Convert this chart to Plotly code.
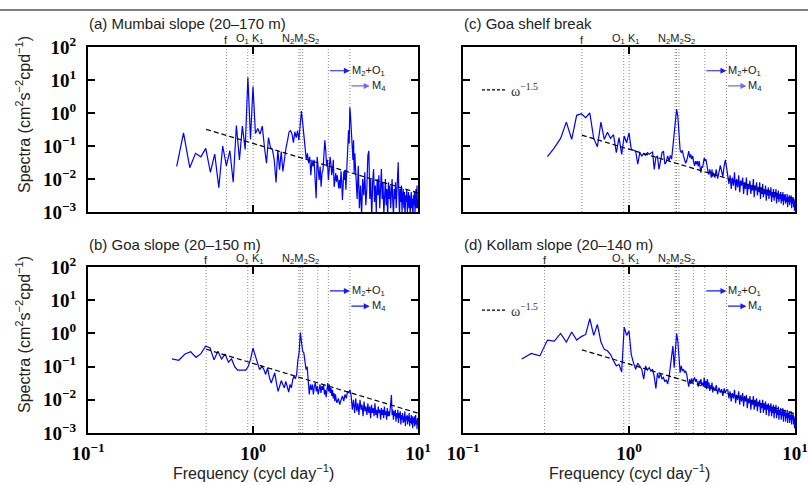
import math
import plotly.graph_objects as go

# ---------------- data ----------------
# spectral estimates on the discrete frequency grid k / record_length (cpd)
REC_A = 29.0
REC_BCD = 31.0
k_a = list(range(10, 121)) + list(range(122, 291, 2))
k_b = list(range(10, 101)) + list(range(102, 311, 2))
k_c = list(range(10, 101)) + list(range(102, 311, 2))
k_d = list(range(7, 101)) + list(range(102, 311, 2))

spec_a_low = [
    0.024, 0.25, 0.022, 0.06, 0.047, 0.085, 0.016, 0.057, 0.0055, 0.1,
    0.025, 0.072, 0.008, 0.42, 0.038, 0.40, 0.079, 12, 0.16, 6.3,
    0.24, 0.34, 0.23, 0.4, 0.095, 0.03, 0.18, 0.09, 0.08, 0.038,
    0.0078, 0.076, 0.019, 0.068, 0.017, 0.047, 0.09, 0.15, 0.27, 0.29,
    0.23, 0.126, 0.27, 0.18, 0.29, 0.15, 0.4, 1.15, 0.5, 0.19,
    0.085, 0.038, 0.06, 0.03, 0.047, 0.013, 0.038, 0.024, 0.038, 0.0105,
    0.0026, 0.047, 0.019, 0.0093, 0.024, 0.0058, 0.015, 0.019, 0.053, 0.15,
    0.076, 0.024, 0.038, 0.0093, 0.019, 0.047, 0.03, 0.013, 0.019, 0.038,
    0.0058, 0.0117, 0.015, 0.0083, 0.013, 0.0083, 0.0052, 0.0093, 0.0052, 0.017,
    0.0093, 0.0023, 0.0058, 0.017, 0.0093, 0.019, 0.0047, 0.015, 0.038, 0.12,
    0.3, 0.12, 1.5, 0.87, 0.3, 0.19, 0.095, 0.038, 0.15, 0.015, 0.06,
]
spec_a_high = [
    0.013, 0.0025, 0.025, 0.0013, 0.0063, 0.0008, 0.01, 0.0032, 0.016, 0.0016,
    0.005, 0.05, 0.071, 0.0025, 0.01, 0.00063, 0.0079, 0.02, 0.002, 0.0063,
    0.001, 0.01, 0.0032, 0.013, 0.0013, 0.005, 0.02, 0.0025, 0.0079, 0.0008,
    0.004, 0.01, 0.0016, 0.005, 0.00063, 0.0079, 0.0025, 0.0063, 0.0013, 0.004,
    0.01, 0.002, 0.0008, 0.005, 0.0025, 0.0079, 0.0013, 0.004, 0.032, 0.032,
    0.0032, 0.0008, 0.005, 0.002, 0.0063, 0.001, 0.0032, 0.005, 0.0013, 0.004,
    0.00063, 0.0032, 0.002, 0.005, 0.001, 0.0025, 0.004, 0.0013, 0.0032, 0.0008,
    0.0025, 0.004, 0.0013, 0.0025, 0.00063, 0.0032, 0.0016, 0.004, 0.001, 0.002,
    0.005, 0.0013, 0.0063, 0.0013, 0.0025,
]

spec_b_low = [
    0.17, 0.155, 0.24, 0.28, 0.19, 0.245, 0.41, 0.37, 0.16, 0.29,
    0.17, 0.24, 0.135, 0.17, 0.10, 0.078, 0.078, 0.08, 0.078, 0.1,
    0.17, 0.36, 0.2, 0.13, 0.081, 0.1, 0.085, 0.058, 0.091, 0.046,
    0.032, 0.046, 0.065, 0.032, 0.018, 0.026, 0.038, 0.029, 0.023, 0.036,
    0.026, 0.017, 0.029, 0.023, 0.041, 0.051, 0.043, 0.058, 0.16, 0.26,
    1.07, 0.46, 0.29, 0.26, 0.13, 0.081, 0.1, 0.041, 0.0145, 0.029,
    0.02, 0.029, 0.0145, 0.026, 0.032, 0.018, 0.026, 0.0145, 0.023, 0.029,
    0.016, 0.026, 0.02, 0.029, 0.0145, 0.02, 0.012, 0.026, 0.032, 0.018,
    0.029, 0.016, 0.023, 0.013, 0.02, 0.011, 0.016, 0.0091, 0.0145, 0.01,
    0.0081,
]
spec_b_high = [
    0.011, 0.0072, 0.01, 0.013, 0.0091, 0.0145, 0.011, 0.018, 0.016, 0.02,
    0.013, 0.005, 0.01, 0.004, 0.011, 0.0045, 0.0079, 0.0035, 0.01, 0.005,
    0.0071, 0.0032, 0.0089, 0.0045, 0.0063, 0.0035, 0.0079, 0.004, 0.0063, 0.0028,
    0.0071, 0.004, 0.0056, 0.0032, 0.0079, 0.0035, 0.005, 0.0028, 0.0063, 0.004,
    0.005, 0.0025, 0.0056, 0.0035, 0.005, 0.0028, 0.0063, 0.0035, 0.0045, 0.0025,
    0.0056, 0.0032, 0.0045, 0.0032, 0.005, 0.01, 0.014, 0.0035, 0.005, 0.0025,
    0.0045, 0.0032, 0.005, 0.0022, 0.004, 0.0028, 0.005, 0.002, 0.004, 0.0028,
    0.0045, 0.0018, 0.0035, 0.0025, 0.004, 0.002, 0.0032, 0.0022, 0.0045, 0.0016,
    0.0032, 0.0025, 0.0035, 0.0018, 0.0032, 0.0022, 0.004, 0.0016, 0.0028, 0.002,
    0.0035, 0.0018, 0.0032, 0.0014, 0.0028, 0.002, 0.0032, 0.0016, 0.0025, 0.0035,
    0.0018, 0.0025, 0.0013, 0.0028, 0.002,
]

spec_c_low = [
    0.048, 0.088, 0.17, 0.53, 0.16, 0.85, 0.95, 0.72, 1.0, 0.17,
    0.095, 0.53, 0.16, 0.26, 0.17, 0.22, 0.063, 0.18, 0.056, 0.2,
    0.126, 0.25, 0.079, 0.074, 0.07, 0.028, 0.063, 0.05, 0.059, 0.052,
    0.063, 0.056, 0.06, 0.066, 0.0195, 0.044, 0.05, 0.0195, 0.035, 0.063,
    0.07, 0.028, 0.033, 0.05, 0.035, 0.052, 0.04, 0.089, 0.2, 0.51,
    1.3, 0.81, 0.25, 0.076, 0.063, 0.074, 0.05, 0.04, 0.03, 0.035,
    0.056, 0.07, 0.044, 0.056, 0.04, 0.05, 0.033, 0.025, 0.035, 0.028,
    0.035, 0.024, 0.035, 0.0195, 0.0155, 0.024, 0.022, 0.031, 0.044, 0.035,
    0.04, 0.03, 0.0195, 0.0155, 0.0138, 0.0195, 0.016, 0.011, 0.0195, 0.0117,
    0.0155,
]
spec_c_high = [
    0.011, 0.0195, 0.0102, 0.016, 0.026, 0.0174, 0.0117, 0.025, 0.038, 0.022,
    0.014, 0.0071, 0.013, 0.005, 0.011, 0.0063, 0.016, 0.0045, 0.01, 0.0056,
    0.013, 0.004, 0.0089, 0.0063, 0.011, 0.0035, 0.0079, 0.005, 0.011, 0.0032,
    0.0071, 0.005, 0.0089, 0.0035, 0.0063, 0.0045, 0.01, 0.0028, 0.0063, 0.0045,
    0.0079, 0.0032, 0.0056, 0.004, 0.0079, 0.0025, 0.0056, 0.0035, 0.0071, 0.0028,
    0.005, 0.0035, 0.0063, 0.0022, 0.0045, 0.0032, 0.0056, 0.0025, 0.0045, 0.0032,
    0.0056, 0.002, 0.004, 0.0028, 0.005, 0.0022, 0.004, 0.0028, 0.005, 0.0018,
    0.0035, 0.0025, 0.0045, 0.002, 0.0035, 0.0025, 0.004, 0.0018, 0.0032, 0.0022,
    0.004, 0.0016, 0.0032, 0.0022, 0.0035, 0.0018, 0.0028, 0.002, 0.0035, 0.0014,
    0.0028, 0.002, 0.0032, 0.0016, 0.0028, 0.002, 0.0032, 0.0013, 0.0025, 0.0018,
    0.0028, 0.0014, 0.0025, 0.0011, 0.0022,
]

spec_d_low = [
    0.17, 0.25, 0.21,
    0.63, 0.59, 1.0, 0.55, 1.1, 0.63, 0.8, 0.93, 2.8, 0.87,
    1.86, 0.55, 0.33, 0.3, 0.23, 0.15, 0.105, 0.117, 0.069, 1.55,
    0.87, 1.17, 0.23, 0.13, 0.083, 0.126, 0.105, 0.083, 0.042, 0.105,
    0.079, 0.093, 0.074, 0.083, 0.05, 0.022, 0.063, 0.044, 0.063, 0.042,
    0.047, 0.035, 0.04, 0.03, 0.047, 0.093, 0.16, 0.42, 0.093, 0.33,
    0.98, 0.59, 0.117, 0.066, 0.105, 0.074, 0.083, 0.066, 0.074, 0.059,
    0.037, 0.025, 0.042, 0.03, 0.044, 0.033, 0.04, 0.047, 0.035, 0.042,
    0.033, 0.025, 0.037, 0.03, 0.042, 0.0275, 0.033, 0.025, 0.047, 0.0234,
    0.037, 0.021, 0.042, 0.025, 0.033, 0.0186, 0.0275, 0.021, 0.033, 0.0166,
    0.025,
]
spec_d_high = [
    0.0186, 0.0275, 0.0148, 0.0234, 0.0166, 0.021, 0.0132, 0.022, 0.016, 0.02,
    0.02, 0.011, 0.018, 0.0089, 0.016, 0.011, 0.02, 0.0079, 0.014, 0.01,
    0.018, 0.0071, 0.014, 0.0089, 0.016, 0.0063, 0.013, 0.0089, 0.014, 0.0056,
    0.011, 0.0079, 0.013, 0.005, 0.01, 0.0071, 0.013, 0.005, 0.01, 0.0063,
    0.011, 0.0045, 0.0089, 0.0063, 0.01, 0.004, 0.0079, 0.0056, 0.01, 0.004,
    0.0079, 0.005, 0.0089, 0.0035, 0.0071, 0.005, 0.0079, 0.0032, 0.0063, 0.0045,
    0.0079, 0.0032, 0.0063, 0.004, 0.0071, 0.0028, 0.0056, 0.004, 0.0071, 0.0028,
    0.005, 0.0035, 0.0063, 0.0025, 0.005, 0.0035, 0.0056, 0.0025, 0.0045, 0.0032,
    0.0056, 0.0022, 0.0045, 0.0032, 0.005, 0.0022, 0.004, 0.0028, 0.005, 0.002,
    0.004, 0.0028, 0.0045, 0.002, 0.0035, 0.0025, 0.0045, 0.0018, 0.0035, 0.0025,
    0.004, 0.0018, 0.0032, 0.0014, 0.0028,
]

# tidal constituents (cpd)
FREQ_O1, FREQ_K1 = 0.9295, 1.0027
FREQ_N2, FREQ_M2, FREQ_S2 = 1.8960, 1.9323, 2.0
FREQ_MO3, FREQ_M4 = 2.8618, 3.8645
inertial_f = {"a": 0.69, "b": 0.52, "c": 0.52, "d": 0.31}
extra_line = {"a": None, "b": 2.47, "c": None, "d": 2.44}
# omega^-1.5 reference amplitude at 1 cpd, drawn from 0.52 to 10 cpd
powerlaw_amp = {"a": 0.12, "b": 0.125, "c": 0.08, "d": 0.12}
powerlaw_x = [0.52, 10.0]

titles = {
    "a": "(a) Mumbai slope (20\u2013170 m)",
    "b": "(b) Goa slope (20\u2013150 m)",
    "c": "(c) Goa shelf break",
    "d": "(d) Kollam slope (20\u2013140 m)",
}

x_ticks = [0.1, 1, 10]
x_ticktext = ["<b>10<sup>\u22121</sup></b>", "<b>10<sup>0</sup></b>", "<b>10<sup>1</sup></b>"]
y_ticks = [1e-3, 1e-2, 1e-1, 1, 10, 100]
y_ticktext = ["<b>10<sup>\u22123</sup></b>", "<b>10<sup>\u22122</sup></b>", "<b>10<sup>\u22121</sup></b>",
              "<b>10<sup>0</sup></b>", "<b>10<sup>1</sup></b>", "<b>10<sup>2</sup></b>"]

# ---------------- figure ----------------
W, H = 808, 485
def px_x(p):
    return p / W
def px_y(p):
    return 1 - p / H

panels = {
    # key: (xaxis id, yaxis id, x-domain px, y-domain px (top,bottom), record, k, spec)
    "a": ("x", "y", (88, 418), (47, 212), REC_A, k_a, spec_a_low + spec_a_high),
    "c": ("x2", "y2", (463, 795), (47, 212), REC_BCD, k_c, spec_c_low + spec_c_high),
    "b": ("x3", "y3", (88, 418), (267, 433), REC_BCD, k_b, spec_b_low + spec_b_high),
    "d": ("x4", "y4", (463, 795), (267, 433), REC_BCD, k_d, spec_d_low + spec_d_high),
}

fig = go.Figure()
annotations = []
shapes = []
TXT = "#222222"
SANS = "Liberation Sans, Arial, sans-serif"
SERIF = "Liberation Serif, Times New Roman, serif"

for key, (xa, ya, xd, yd, rec, ks, spec) in panels.items():
    assert len(ks) == len(spec), (key, len(ks), len(spec))
    freq = [k / rec for k in ks]
    xref, yref = xa, ya
    # vertical dotted constituent lines
    vlines = [inertial_f[key], FREQ_O1, FREQ_K1, FREQ_N2, FREQ_M2, FREQ_S2, FREQ_MO3, FREQ_M4]
    if extra_line[key]:
        vlines.append(extra_line[key])
    vx, vy = [], []
    for v in vlines:
        vx += [v, v, None]
        vy += [1e-3, 1e2, None]
    fig.add_trace(go.Scatter(x=vx, y=vy, mode="lines", xaxis=xa, yaxis=ya,
                             line=dict(color="#8c8c8c", width=1, dash="1px,2px"),
                             hoverinfo="skip", showlegend=False))
    # spectrum
    fig.add_trace(go.Scatter(x=freq, y=spec, mode="lines", xaxis=xa, yaxis=ya,
                             line=dict(color="#0000ff", width=1.2),
                             showlegend=False))
    # omega^-1.5 reference
    C = powerlaw_amp[key]
    fig.add_trace(go.Scatter(x=powerlaw_x, y=[C * v ** -1.5 for v in powerlaw_x],
                             mode="lines", xaxis=xa, yaxis=ya,
                             line=dict(color="black", width=1.2, dash="5px,3px"),
                             showlegend=False))

    dom_x = [px_x(xd[0]), px_x(xd[1])]
    dom_y = [px_y(yd[1]), px_y(yd[0])]
    bottom = key in ("b", "d")
    left = key in ("a", "b")
    axname_x = "xaxis" + xa[1:]
    axname_y = "yaxis" + ya[1:]
    fig.layout[axname_x] = dict(
        type="log", range=[-1, 1], domain=dom_x, anchor=ya, automargin=False,
        showline=True, linecolor="black", linewidth=2, mirror="ticks",
        ticks="inside", ticklen=7, tickwidth=1.5, tickcolor="black",
        tickvals=x_ticks, ticktext=x_ticktext, showticklabels=bottom,
        tickfont=dict(family=SERIF, size=19, color="black"),
        ticklabelstandoff=2,
        showgrid=False, zeroline=False,
    )
    fig.layout[axname_y] = dict(
        type="log", range=[-3, 2], domain=dom_y, anchor=xa, automargin=False,
        showline=True, linecolor="black", linewidth=2, mirror="ticks",
        ticks="inside", ticklen=7, tickwidth=1.5, tickcolor="black",
        tickvals=y_ticks, ticktext=y_ticktext, showticklabels=left,
        tickfont=dict(family=SERIF, size=19, color="black"),
        ticklabelstandoff=6,
        showgrid=False, zeroline=False,
    )

    # panel title
    ty = 23.5 if not bottom else 244
    annotations.append(dict(text=titles[key], xref="paper", yref="paper",
                            x=px_x(xd[0]), y=px_y(ty), xanchor="left", yanchor="middle",
                            borderpad=0, showarrow=False,
                            font=dict(family=SANS, size=15, color=TXT)))
    # constituent labels
    lab_font = dict(family=SANS, size=11, color=TXT)
    for txt, pos in [("f", inertial_f[key]),
                     ("O<sub>1</sub> K<sub>1</sub>", math.sqrt(FREQ_O1 * FREQ_K1)),
                     ("N<sub>2</sub>M<sub>2</sub>S<sub>2</sub>", FREQ_M2)]:
        annotations.append(dict(text=txt, xref=xref, yref=yref + " domain",
                                x=math.log10(pos), y=1, xanchor="center", yanchor="bottom",
                                yshift=0, borderpad=0, showarrow=False, font=lab_font))
    # arrows M2+O1 and M4
    col2 = "#6a6aff" if key in ("a", "c") else "#1a1aff"
    for (tail, head, yy, txt, col) in [
        (FREQ_MO3, FREQ_M4, 0.856, "M<sub>2</sub>+O<sub>1</sub>", "#1a1aff"),
        (FREQ_M4, 5.1, 0.764, "M<sub>4</sub>", col2),
    ]:
        annotations.append(dict(text="", xref=xref, yref=yref + " domain",
                                x=math.log10(head), y=yy, axref=xref, ayref="pixel",
                                ax=math.log10(tail), ay=0, showarrow=True,
                                arrowhead=2, arrowsize=1, arrowwidth=1.2, arrowcolor=col,
                                standoff=0, startstandoff=0))
        annotations.append(dict(text=txt, xref=xref, yref=yref + " domain",
                                x=math.log10(head), y=yy, xanchor="left", yanchor="middle",
                                xshift=1, borderpad=0, showarrow=False, font=lab_font))
    # x title
    if bottom:
        annotations.append(dict(text="Frequency (cycl day<sup>\u22121</sup>)", xref=xref + " domain",
                                yref="paper", x=0.5, y=px_y(472), xanchor="center", yanchor="middle",
                                showarrow=False, font=dict(family=SANS, size=16, color=TXT)))
    # y title
    if left:
        cy = 115 if not bottom else 335
        annotations.append(dict(text="Spectra (cm<sup>2</sup>s<sup>\u22122</sup>cpd<sup>\u22121</sup>)",
                                xref="paper", yref="paper", x=px_x(23), y=px_y(cy),
                                xanchor="center", yanchor="middle", textangle=-90,
                                showarrow=False, font=dict(family=SANS, size=16, color=TXT)))
    # omega^-1.5 key in right panels
    if key in ("c", "d"):
        kx0 = (482 - xd[0]) / (xd[1] - xd[0])
        kx1 = (505 - xd[0]) / (xd[1] - xd[0])
        ky = 0.74
        shapes.append(dict(type="line", xref=xref + " domain", yref=yref + " domain",
                           x0=kx0, x1=kx1, y0=ky, y1=ky,
                           line=dict(color="black", width=1.1, dash="3px,2px")))
        annotations.append(dict(text="\u03c9<sup>\u22121.5</sup>", xref=xref + " domain",
                                yref=yref + " domain", x=(509 - xd[0]) / (xd[1] - xd[0]), y=ky,
                                xanchor="left", yanchor="middle", showarrow=False,
                                font=dict(family=SERIF, size=14, color="#333333")))

# rule across the top of the figure
shapes.append(dict(type="line", xref="paper", yref="paper", x0=0, x1=1,
                   y0=px_y(10), y1=px_y(10), line=dict(color="black", width=1.2)))

fig.update_layout(width=W, height=H, margin=dict(l=0, r=0, t=0, b=0, autoexpand=False),
                  paper_bgcolor="white", plot_bgcolor="white", showlegend=False,
                  annotations=annotations, shapes=shapes)

fig.write_html("out.html")
